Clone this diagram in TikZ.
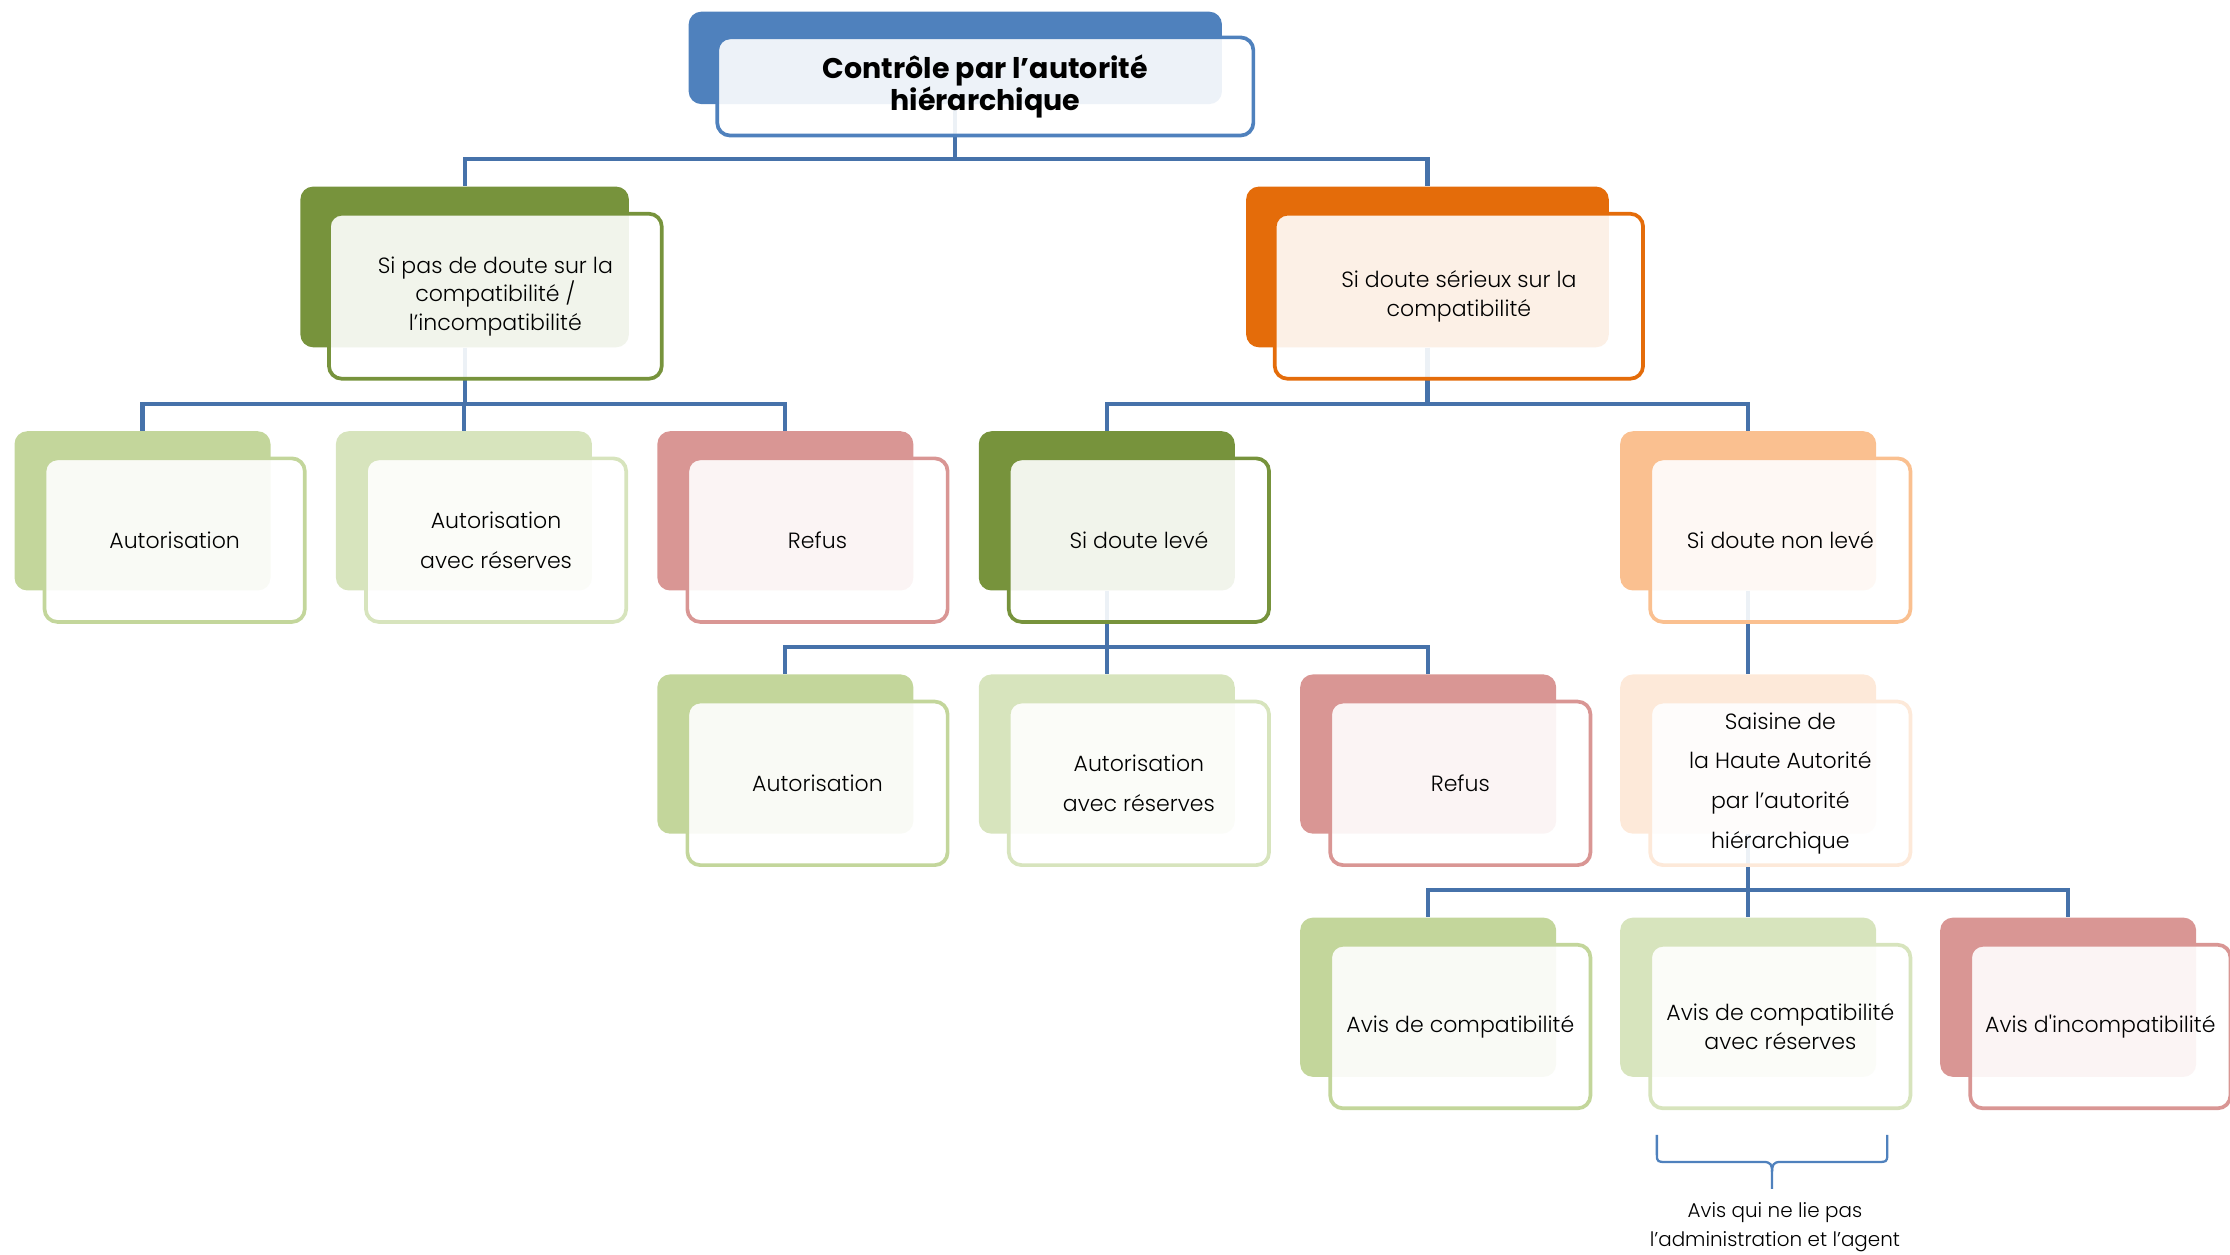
\documentclass[tikz,border=0pt]{standalone}
\usepackage{fontspec}
\setmainfont{Poppins Light}[BoldFont={Poppins Bold}]
\usetikzlibrary{calc}
\definecolor{cblue}{HTML}{4F81BD}
\definecolor{cline}{HTML}{4672AA}
\definecolor{cgreen}{HTML}{77933C}
\definecolor{corange}{HTML}{E46C0A}
\definecolor{clgreen}{HTML}{C3D69B}
\definecolor{cllgreen}{HTML}{D7E4BD}
\definecolor{cred}{HTML}{D99694}
\definecolor{clorange}{HTML}{FAC090}
\definecolor{cvlorange}{HTML}{FDE9D9}
\pgfdeclarelayer{bg}\pgfsetlayers{bg,main}
\tikzset{
 backbox/.style={rounded corners=9pt, inner sep=0pt, anchor=north west, fill=#1, draw=none},
 frontbox/.style={rounded corners=9pt, inner sep=0pt, anchor=north west, draw=#1, line width=2.6pt,
   fill=white, fill opacity=0.9, text opacity=1, align=center, font=\fontsize{15.5}{20}\selectfont},
 conn/.style={draw=cline, line width=3pt},
 bracestyle/.style={draw=cblue, line width=1.6pt},
 notetext/.style={align=center, font=\fontsize{14}{20}\selectfont, inner sep=0pt},
}
\newcommand\mkpair[6]{%
 \node[backbox=#4, minimum width=180pt, minimum height=112pt] (#1b) at (#2,#3) {};
 \node[frontbox=#4, minimum width=183pt, minimum height=115pt, #6] (#1) at ($(#2,#3)+(20,18)$) {#5};
}
\begin{document}
\begin{tikzpicture}[x=1pt,y=-1pt]
\useasboundingbox (0,0) rectangle (1568,882);
% top
\node[backbox=cblue, minimum width=375pt, minimum height=65pt] (topb) at (484,8) {};
\node[frontbox=cblue, minimum width=377pt, minimum height=69pt, font=\bfseries\fontsize{20}{22}\selectfont] (top) at (503,25) {Contrôle par l’autorité\\hiérarchique};
% level 1
\node[backbox=cgreen, minimum width=231pt, minimum height=113pt] (gb) at (211,131) {};
\node[frontbox=cgreen, minimum width=234pt, minimum height=116pt] (g) at (230,149) {Si pas de doute sur la\\compatibilité /\\l’incompatibilité};
\node[backbox=corange, minimum width=255pt, minimum height=113pt] (ob) at (876,131) {};
\node[frontbox=corange, minimum width=259pt, minimum height=116pt] (o) at (895,149) {Si doute sérieux sur la\\compatibilité};
% level 2
\mkpair{aa}{10}{303}{clgreen}{Autorisation}{}
\mkpair{ab}{236}{303}{cllgreen}{Autorisation\\avec réserves}{font=\fontsize{15.5}{28}\selectfont}
\mkpair{ac}{462}{303}{cred}{Refus}{}
\mkpair{ad}{688}{303}{cgreen}{Si doute levé}{}
\mkpair{ae}{1139}{303}{clorange}{Si doute non levé}{}
% level 3
\mkpair{ba}{462}{474}{clgreen}{Autorisation}{}
\mkpair{bb}{688}{474}{cllgreen}{Autorisation\\avec réserves}{font=\fontsize{15.5}{28}\selectfont}
\mkpair{bc}{914}{474}{cred}{Refus}{}
\mkpair{bd}{1139}{474}{cvlorange}{Saisine de\\la Haute Autorité\\par l’autorité\\hiérarchique}{font=\fontsize{15.5}{28}\selectfont}
% level 4
\mkpair{ca}{914}{645}{clgreen}{Avis de compatibilité}{}
\mkpair{cb}{1139}{645}{cllgreen}{Avis de compatibilité\\avec réserves}{}
\mkpair{cc}{1364}{645}{cred}{Avis d\textquotesingle incompatibilité}{}
% connectors
\begin{pgfonlayer}{bg}
\foreach \p/\c in {topb/gb, topb/ob, gb/aab, gb/abb, gb/acb, ob/adb, ob/aeb, adb/bab, adb/bbb, adb/bcb, aeb/bdb, bdb/cab, bdb/cbb, bdb/ccb}
  \draw[conn] (\p.south) |- ([yshift=19pt]\c.north) -- (\c.north);
\end{pgfonlayer}
% brace
\draw[bracestyle] (1165,798) -- (1165,812) .. controls (1165,817) and (1166,817) .. (1171,817) -- (1240,817) .. controls (1245,817) and (1246,819) .. (1246,824) -- (1246,836);
\draw[bracestyle] (1327,798) -- (1327,812) .. controls (1327,817) and (1326,817) .. (1321,817) -- (1252,817) .. controls (1247,817) and (1246,819) .. (1246,824);
\node[notetext] (note) at (1248,863) {Avis qui ne lie pas\\l’administration et l’agent};
\end{tikzpicture}
\end{document}
